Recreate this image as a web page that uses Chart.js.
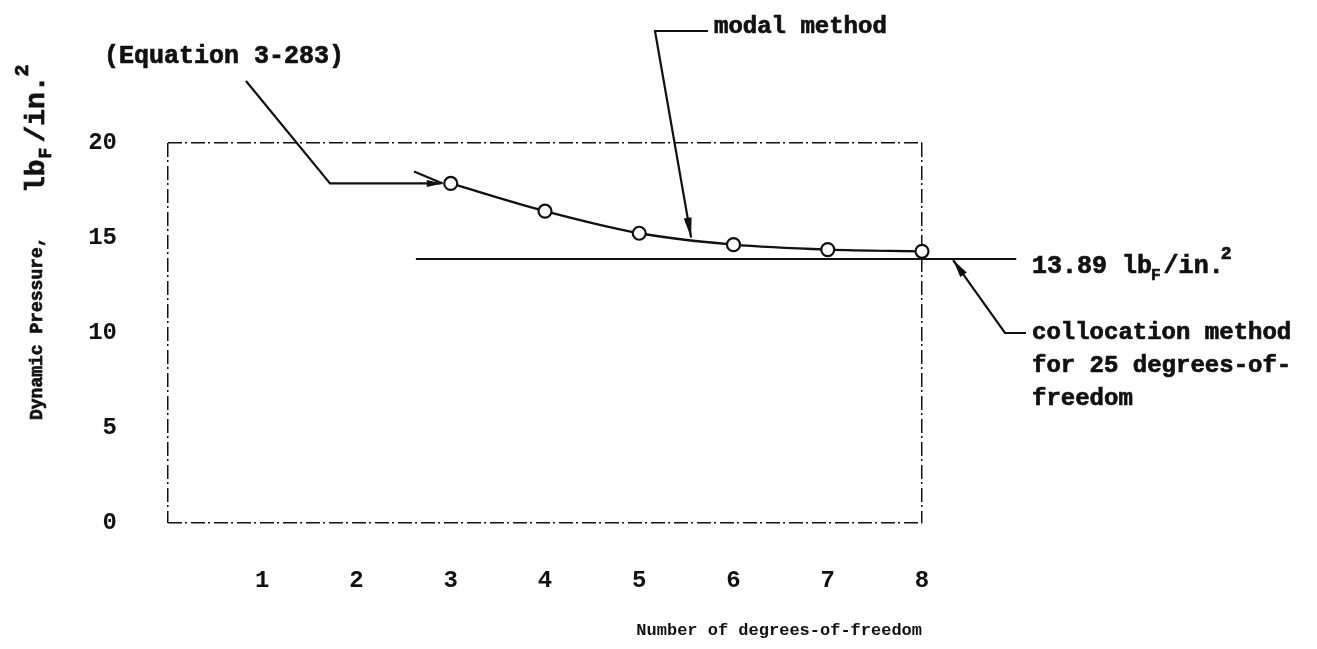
<!DOCTYPE html>
<html>
<head>
<meta charset="utf-8">
<script src="https://cdn.jsdelivr.net/npm/chart.js@4.4.1/dist/chart.umd.min.js"></script>
<style>
  html, body { margin: 0; padding: 0; background: #fff; }
  #chart { display: block; }
</style>
</head>
<body>
<canvas id="chart" width="1317" height="649"></canvas>
<script>
// number of degrees-of-freedom kept in the modal solution
const dofCounts = [3, 4, 5, 6, 7, 8];
// dynamic pressure from the modal method, lbF/in.^2
const modalPressure = [17.87, 16.41, 15.25, 14.65, 14.39, 14.30];
// collocation method result, 25 degrees-of-freedom
const collocationPressure = 13.89;
const collocationSpan = [2.63, 9.0];

const xTickLabels = [1, 2, 3, 4, 5, 6, 7, 8];
const yTickLabels = [0, 5, 10, 15, 20];

const INK = "#111";
const TYPE = "'Liberation Mono', 'Courier New', monospace";

function font(size) {
  return "bold " + size + "px " + TYPE;
}

// filled arrowhead at (tx, ty), pointing away from (fx, fy)
function arrowHead(ctx, fx, fy, tx, ty, len, half) {
  const a = Math.atan2(ty - fy, tx - fx);
  const bx = tx - len * Math.cos(a), by = ty - len * Math.sin(a);
  ctx.beginPath();
  ctx.moveTo(tx, ty);
  ctx.lineTo(bx + half * Math.sin(a), by - half * Math.cos(a));
  ctx.lineTo(bx - half * Math.sin(a), by + half * Math.cos(a));
  ctx.closePath();
  ctx.fill();
}

function polyline(ctx, pts) {
  ctx.beginPath();
  ctx.moveTo(pts[0][0], pts[0][1]);
  pts.slice(1).forEach(p => ctx.lineTo(p[0], p[1]));
  ctx.stroke();
}

function boldText(ctx, text, x, y) {
  ctx.fillText(text, x, y);
  ctx.strokeText(text, x, y);
  return ctx.measureText(text).width;
}

// "lb_F/in.^2" written left to right from x, middle at y
function unitText(ctx, x, y, size, gap) {
  ctx.font = font(size);
  x += boldText(ctx, "lb", x, y) + gap;
  ctx.font = font(Math.round(size * 0.65));
  x += boldText(ctx, "F", x - 2, y + size * 0.35) + gap;
  ctx.font = font(size);
  x += boldText(ctx, "/in.", x, y) + gap;
  ctx.font = font(Math.round(size * 0.7));
  x += boldText(ctx, "2", x - 4, y - size * 0.5);
  return x;
}

const notes = {
  id: "notes",
  afterDraw(chart) {
    const ctx = chart.ctx;
    const xs = chart.scales.x, ys = chart.scales.y;
    ctx.save();
    ctx.fillStyle = INK;
    ctx.strokeStyle = INK;
    ctx.textBaseline = "middle";
    ctx.textAlign = "left";

    // y axis title, rotated
    ctx.save();
    ctx.translate(37, 420);
    ctx.rotate(-Math.PI / 2);
    ctx.lineWidth = 0.7;
    ctx.font = font(18);
    boldText(ctx, "Dynamic Pressure,", 0, 0);
    unitText(ctx, 227, 0, 28, 3);
    ctx.restore();

    ctx.lineWidth = 0.7;
    // equation reference
    ctx.font = font(25);
    boldText(ctx, "(Equation 3-283)", 104, 57);
    const p3x = xs.getPixelForValue(dofCounts[0]);
    const p3y = ys.getPixelForValue(modalPressure[0]);
    ctx.lineWidth = 2.2;
    polyline(ctx, [[246, 81], [330, p3y], [p3x - 10, p3y]]);
    arrowHead(ctx, 330, p3y, p3x - 8, p3y, 16, 3.5);
    polyline(ctx, [[414, p3y - 12], [p3x - 8, p3y]]);

    // modal method label
    ctx.lineWidth = 0.7;
    ctx.font = font(24);
    boldText(ctx, "modal method", 714, 27);
    const mx = xs.getPixelForValue(5.55);
    const my = ys.getPixelForValue(14.92) - 2;
    ctx.lineWidth = 2.2;
    polyline(ctx, [[708, 31], [655, 31], [mx, my]]);
    arrowHead(ctx, 655, 31, mx, my, 20, 4);

    // collocation value and label
    const cy = ys.getPixelForValue(collocationPressure);
    ctx.lineWidth = 0.7;
    ctx.font = font(25);
    const w = boldText(ctx, "13.89 ", 1032, cy + 8);
    unitText(ctx, 1032 + w, cy + 8, 25, 1);

    const tipX = xs.getPixelForValue(8.33);
    const kneeY = ys.getPixelForValue(10);
    ctx.lineWidth = 2.2;
    polyline(ctx, [[1026, kneeY], [1005, kneeY], [tipX, cy + 1]]);
    arrowHead(ctx, 1005, kneeY, tipX, cy + 1, 18, 4);

    ctx.lineWidth = 0.7;
    ctx.font = font(24);
    ["collocation method", "for 25 degrees-of-", "freedom"].forEach((line, i) => {
      boldText(ctx, line, 1032, kneeY + i * 33);
    });
    ctx.restore();
  }
};

// grid lines only where the frame sits
function frameColor(edges) {
  return ctx => (ctx.tick && edges.includes(ctx.tick.value) ? INK : "transparent");
}

new Chart(document.getElementById("chart"), {
  type: "line",
  data: {
    datasets: [
      {
        label: "modal method",
        data: dofCounts.map((n, i) => ({ x: n, y: modalPressure[i] })),
        borderColor: INK,
        borderWidth: 2.3,
        cubicInterpolationMode: "monotone",
        pointRadius: 6.5,
        pointBorderWidth: 2.2,
        pointBackgroundColor: "#fff",
        pointBorderColor: INK,
        clip: false
      },
      {
        label: "collocation method",
        data: collocationSpan.map(x => ({ x: x, y: collocationPressure })),
        borderColor: INK,
        borderWidth: 2,
        pointRadius: 0,
        clip: false
      }
    ]
  },
  options: {
    responsive: false,
    animation: false,
    layout: { padding: { top: 143, right: 395, left: 0, bottom: 0 } },
    plugins: { legend: { display: false }, tooltip: { enabled: false } },
    scales: {
      x: {
        type: "linear",
        min: 0,
        max: 8,
        afterBuildTicks: axis => { axis.ticks = [0].concat(xTickLabels).map(v => ({ value: v })); },
        afterFit: axis => { axis.height = 126; },
        ticks: {
          padding: 44,
          color: INK,
          font: { family: TYPE, size: 24, weight: "bold" },
          callback: v => (v === 0 ? "" : String(v))
        },
        grid: { drawTicks: false, lineWidth: 1.5, color: frameColor([0, 8]) },
        border: { display: false, dash: [14, 3, 2, 4] },
        title: {
          display: true,
          text: "Number of degrees-of-freedom",
          align: "end",
          color: INK,
          font: { family: TYPE, size: 17, weight: "bold" },
          padding: { top: 0, bottom: 8 }
        }
      },
      y: {
        type: "linear",
        min: 0,
        max: 20,
        afterBuildTicks: axis => { axis.ticks = yTickLabels.map(v => ({ value: v })); },
        afterFit: axis => { axis.width = 168; },
        ticks: {
          padding: 51,
          color: INK,
          font: { family: TYPE, size: 24, weight: "bold" }
        },
        grid: { drawTicks: false, lineWidth: 1.5, color: frameColor([0, 20]) },
        border: { display: false, dash: [14, 3, 2, 4] }
      }
    }
  },
  plugins: [notes]
});
</script>
</body>
</html>
